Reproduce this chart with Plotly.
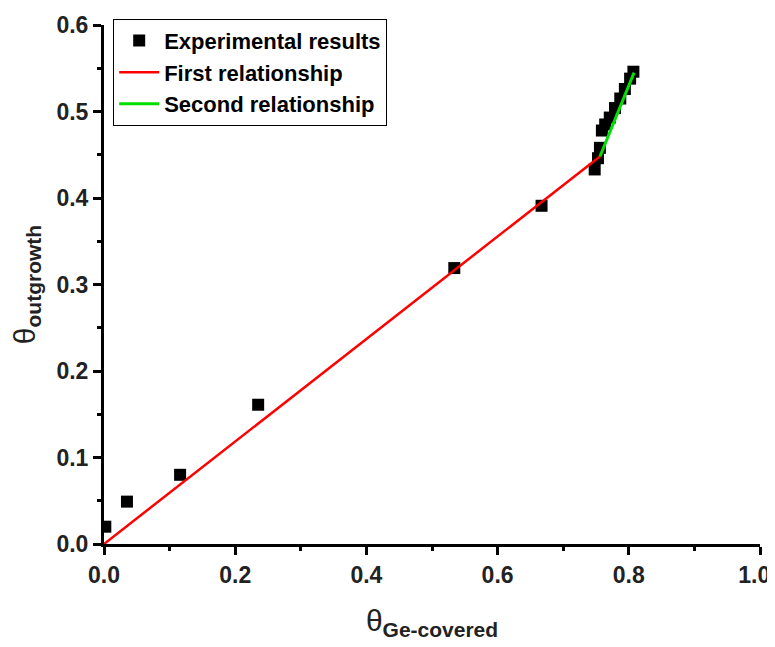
import plotly.graph_objects as go

# Experimental data
exp_x = [0.002, 0.035, 0.116, 0.235, 0.534, 0.667, 0.748, 0.753, 0.756, 0.759, 0.764,
         0.771, 0.779, 0.787, 0.794, 0.802, 0.807]
exp_y = [0.020, 0.049, 0.080, 0.161, 0.319, 0.391, 0.433, 0.446, 0.458, 0.478, 0.485,
         0.493, 0.504, 0.515, 0.526, 0.538, 0.546]

# Fitted relationships
first_x = [0.0, 0.756]
first_y = [0.0, 0.448]
second_x = [0.756, 0.808]
second_y = [0.448, 0.545]

x_ticks = [0.0, 0.2, 0.4, 0.6, 0.8, 1.0]
y_ticks = [0.0, 0.1, 0.2, 0.3, 0.4, 0.5, 0.6]

font_family = "Liberation Sans, Arial, sans-serif"

fig = go.Figure()
fig.add_trace(go.Scatter(
    x=exp_x, y=exp_y, mode="markers", name="<b>Experimental results</b>",
    marker=dict(symbol="square", size=12, color="black"),
    cliponaxis=True,
))
fig.add_trace(go.Scatter(
    x=first_x, y=first_y, mode="lines", name="<b>First relationship</b>",
    line=dict(color="#ff0000", width=2.5),
))
fig.add_trace(go.Scatter(
    x=second_x, y=second_y, mode="lines", name="<b>Second relationship</b>",
    line=dict(color="#00e000", width=3),
))

axis_common = dict(
    showline=True, linecolor="black", linewidth=3, mirror=False,
    ticks="outside", ticklen=8, tickwidth=3, tickcolor="black",
    showgrid=False, zeroline=False, automargin=False,
    tickfont=dict(family=font_family, size=23, color="#222"),
)

x_text = [f"<b>{v:.1f}</b>" for v in x_ticks]
x_text[-1] = x_text[-1] + "\u2002"

fig.update_xaxes(
    range=[0, 1.0], tickvals=x_ticks, ticktext=x_text,
    minor=dict(ticks="outside", ticklen=4, tickwidth=3, tickcolor="black", dtick=0.1, tick0=0),
    title=dict(text="θ<sub><b>Ge-covered</b></sub>", font=dict(family=font_family, size=30, color="#222"),
               standoff=24),
    **axis_common,
)
fig.update_yaxes(
    range=[0, 0.6], tickvals=y_ticks, ticktext=[f"<b>{v:.1f}</b>" for v in y_ticks],
    minor=dict(ticks="outside", ticklen=4, tickwidth=3, tickcolor="black", dtick=0.05, tick0=0),
    title=dict(text="θ<sub><b>outgrowth</b></sub>", font=dict(family=font_family, size=30, color="#222"),
               standoff=14),
    **axis_common,
)

fig.update_layout(
    width=775, height=647,
    margin=dict(l=96, r=23, t=11, b=111),
    paper_bgcolor="white", plot_bgcolor="white",
    showlegend=True,
    legend=dict(
        x=0.014, y=1.012, xanchor="left", yanchor="top",
        bordercolor="black", borderwidth=1, bgcolor="white",
        font=dict(family=font_family, size=22, color="black"),
        tracegroupgap=0, itemwidth=40,
    ),
)

fig.write_html("out.html")
